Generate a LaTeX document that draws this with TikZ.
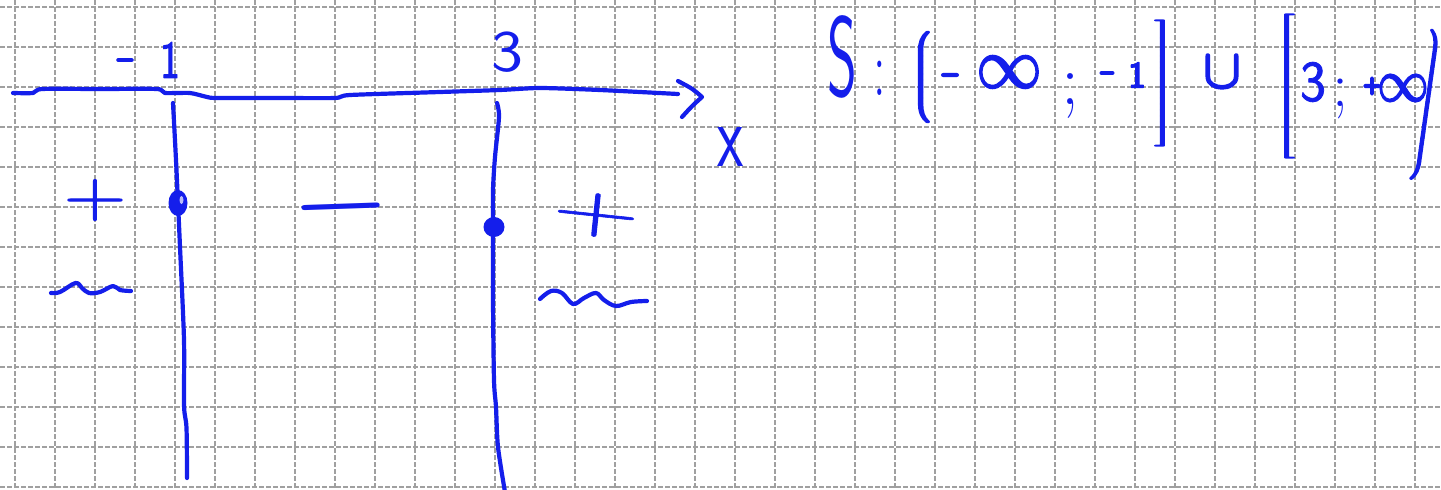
\RequirePackage{fix-cm}
\documentclass[tikz,border=0pt]{standalone}
\usepackage{graphicx}
\definecolor{ink}{RGB}{20,30,235}
\definecolor{gridc}{RGB}{160,160,160}
\tikzset{
  pen/.style={draw=ink,line width=4.2pt,line cap=round,line join=round},
  gridline/.style={draw=gridc,line width=1.3pt,dash pattern=on 4.5pt off 2.5pt},
  glyph/.style={text=ink,inner sep=0pt,outer sep=0pt}
}
\newcommand{\sg}[4]{\scalebox{#1}[#2]{\fontsize{#3}{#3}\selectfont #4}}
\newcommand{\thk}[2]{{\special{pdf:literal direct 2 Tr #1 w 1 j 1 J}#2\special{pdf:literal direct 0 Tr}}}
\newcommand{\dlm}[3]{{\fontsize{#1}{#1}\selectfont$\delimiterfactor=1000\delimitershortfall=0pt\nulldelimiterspace=0pt\left#2\vcenter{\hrule height #3pt width 0pt}\right.$}}
\begin{document}
\begin{tikzpicture}[x=1pt,y=-1pt]
\useasboundingbox (0,0) rectangle (1441,490);
\fill[white] (0,0) rectangle (1441,490);
% grid
\foreach \i in {0,...,35} \draw[gridline] (15+40*\i,0) -- (15+40*\i,490);
\foreach \j in {0,...,12} \draw[gridline] (0,7+40*\j) -- (1441,7+40*\j);
% axis
\draw[pen] plot[smooth,tension=0.4] coordinates {(13,93) (33,93) (42,89) (100,89) (157,89) (165,93) (190,93) (207,97) (217,98) (280,98) (335,98) (350,95) (440,92) (500,90) (540,88) (600,90) (678,94)};
\coordinate (tipA) at (678,81);
\coordinate (tip) at (702,97);
\coordinate (tipB) at (682,117);
\draw[pen] (tipA) .. controls (693,89) .. (tip) .. controls (692,106) .. (tipB);
% vertical lines
\draw[pen] plot[smooth,tension=0.5] coordinates {(173,103) (176,160) (178,203) (180,247) (184,340) (184,405) (186.5,428) (187,478)};
\draw[pen] plot[smooth,tension=0.5] coordinates {(497,103) (499,117) (495,157) (493,190) (493,227) (493,300) (494,380) (496,407) (498,447) (505,492)};
% dots
\fill[ink] (178,203) ellipse [x radius=9.5, y radius=13];
\fill[ink!30] (181.5,200) ellipse [x radius=2, y radius=4];
\fill[ink] (494,227) ellipse [x radius=10.5, y radius=10];
% squiggles
\draw[pen] plot[smooth,tension=0.6] coordinates {(51,293) (60,292) (75.5,283) (82,288) (89,293) (100,292) (113,286) (120,290) (131,291)};
\draw[pen] plot[smooth,tension=0.6] coordinates {(540,299) (551,291) (562,293) (573,304) (584,298) (596,293) (604,300) (616,306) (631,302) (647,301)};
% axis labels
\node[glyph] (mone) at (125,60) {\sg{1}{1}{24}{\thk{3}{$-$}}};
\node[glyph] (one) at (170,60) {\sg{0.8}{1}{53}{\thk{1}{\sffamily 1}}};
\node[glyph] (three) at (507,52) {\sg{1.15}{1}{59}{\sffamily 3}};
\node[glyph] (xl) at (731,147) {\sg{1.1}{1.65}{55}{\sffamily x}};
% signs
\node[glyph] (pl) at (95,200) {\sg{1}{0.76}{87}{\thk{1}{$+$}}};
\node[glyph,rotate=2] (mm) at (341,207) {\sg{1}{1}{128}{$-$}};
\node[glyph,rotate=-6] (pr) at (596,215) {\sg{1.05}{0.6}{115}{\thk{1}{$+$}}};
% solution set
\node[glyph] (S) at (842,57) {\sg{0.95}{1.9}{60}{\sffamily S}};
\node[glyph] (colon) at (880,78) {\sg{1}{1.6}{50}{:}};
\node[glyph] (lp) at (922,77) {\scalebox{1.5}[1]{\thk{2.5}{\dlm{36}{(}{86}}}};
\node[glyph] (m2) at (950,75) {\sg{1}{1}{25}{\thk{3}{$-$}}};
\node[glyph] (inf1) at (1009,72) {\sg{1}{1.1}{65}{\thk{2}{$\infty$}}};
\node[glyph] (sc1) at (1070,96) {\sg{1}{1}{72}{;}};
\node[glyph] (m3) at (1107,73) {\sg{1}{1}{20}{\thk{3}{$-$}}};
\node[glyph] (one2) at (1137,75) {\sg{1}{1}{37}{\thk{1.5}{\sffamily 1}}};
\node[glyph] (rb) at (1163,83) {\scalebox{2.2}[1]{\thk{1.5}{\dlm{53}{]}{126}}}};
\node[glyph] (cup) at (1222,72) {\sg{1}{1}{55}{\thk{2.5}{$\cup$}}};
\node[glyph] (lb) at (1286,86) {\scalebox{2.2}[1]{\thk{1.5}{\dlm{47}{[}{140}}}};
\node[glyph] (three2) at (1313,82) {\sg{0.95}{1}{58}{\thk{0.8}{\sffamily 3}}};
\node[glyph] (sc2) at (1340,99) {\sg{1}{1}{64}{;}};
\node[glyph] (pl2) at (1372,86) {\sg{1}{1.1}{23}{\thk{3}{$+$}}};
\node[glyph] (inf2) at (1403,88) {\sg{0.85}{1}{60}{\thk{2}{$\infty$}}};
\node[glyph,rotate=-8] (rp) at (1426,105) {\scalebox{1.2}[1]{\thk{2.5}{\dlm{53}{)}{150}}}};
\end{tikzpicture}
\end{document}
